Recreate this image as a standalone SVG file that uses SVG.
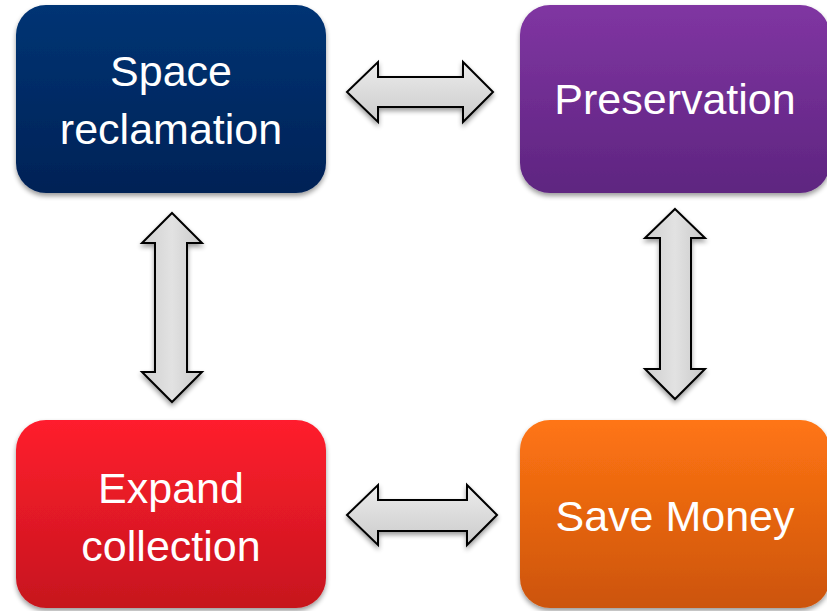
<svg xmlns="http://www.w3.org/2000/svg" width="827" height="611" viewBox="0 0 827 611">
  <defs>
    <linearGradient id="gNavy" x1="0" y1="0" x2="0" y2="1">
      <stop offset="0" stop-color="#003474"/>
      <stop offset="1" stop-color="#002256"/>
    </linearGradient>
    <linearGradient id="gPurple" x1="0" y1="0" x2="0" y2="1">
      <stop offset="0" stop-color="#8035A2"/>
      <stop offset="1" stop-color="#5E2580"/>
    </linearGradient>
    <linearGradient id="gRed" x1="0" y1="0" x2="0" y2="1">
      <stop offset="0" stop-color="#FF1E2D"/>
      <stop offset="1" stop-color="#C6151E"/>
    </linearGradient>
    <linearGradient id="gOrange" x1="0" y1="0" x2="0" y2="1">
      <stop offset="0" stop-color="#FF7514"/>
      <stop offset="1" stop-color="#CC540A"/>
    </linearGradient>
    <linearGradient id="gArrowH" x1="0" y1="0" x2="0" y2="1">
      <stop offset="0" stop-color="#ECECEC"/>
      <stop offset="1" stop-color="#CBCBCB"/>
    </linearGradient>
    <linearGradient id="gArrowV" x1="0" y1="0" x2="1" y2="0">
      <stop offset="0" stop-color="#CFCFCF"/>
      <stop offset="0.5" stop-color="#E2E2E2"/>
      <stop offset="1" stop-color="#C9C9C9"/>
    </linearGradient>
    <filter id="shadow" x="-10%" y="-10%" width="120%" height="125%">
      <feGaussianBlur in="SourceAlpha" stdDeviation="2.5"/>
      <feOffset dx="0" dy="3" result="b"/>
      <feComponentTransfer><feFuncA type="linear" slope="0.4"/></feComponentTransfer>
      <feMerge><feMergeNode/><feMergeNode in="SourceGraphic"/></feMerge>
    </filter>
  </defs>
  <style>
    .box { filter: url(#shadow); }
    .lbl { font-family: "Liberation Sans", Arial, sans-serif; font-size: 43px; fill: #FFFFFF; text-anchor: middle; }
    .arr { stroke: #000000; stroke-width: 2; stroke-linejoin: miter; filter: url(#shadow); }
  </style>
  <rect width="827" height="611" fill="#FFFFFF"/>

  <g id="node-space">
    <rect class="box" x="16" y="5" width="310" height="188" rx="30" fill="url(#gNavy)"/>
    <text class="lbl" x="171" y="86">Space</text>
    <text class="lbl" x="171" y="144">reclamation</text>
  </g>
  <g id="node-preservation">
    <rect class="box" x="520" y="5" width="310" height="188" rx="30" fill="url(#gPurple)"/>
    <text class="lbl" x="675" y="114">Preservation</text>
  </g>
  <g id="node-expand">
    <rect class="box" x="16" y="420" width="310" height="188" rx="30" fill="url(#gRed)"/>
    <text class="lbl" x="171" y="503">Expand</text>
    <text class="lbl" x="171" y="561">collection</text>
  </g>
  <g id="node-save">
    <rect class="box" x="520" y="420" width="310" height="188" rx="30" fill="url(#gOrange)"/>
    <text class="lbl" x="675" y="531">Save Money</text>
  </g>

  <g id="connectors">
    <path class="arr" fill="url(#gArrowH)" d="M347,92 L378,62 L378,77 L463,77 L463,62 L493,92 L463,122 L463,107 L378,107 L378,122 Z"/>
    <path class="arr" fill="url(#gArrowH)" d="M347,515 L378,485 L378,500 L467,500 L467,485 L497,515 L467,545 L467,531 L378,531 L378,545 Z"/>
    <path class="arr" fill="url(#gArrowV)" d="M172,213 L202,243 L187,243 L187,372 L202,372 L172,402 L142,372 L155,372 L155,243 L142,243 Z"/>
    <path class="arr" fill="url(#gArrowV)" d="M675,209 L705,238 L691,238 L691,369 L705,369 L675,399 L645,369 L660,369 L660,238 L645,238 Z"/>
  </g>
</svg>
